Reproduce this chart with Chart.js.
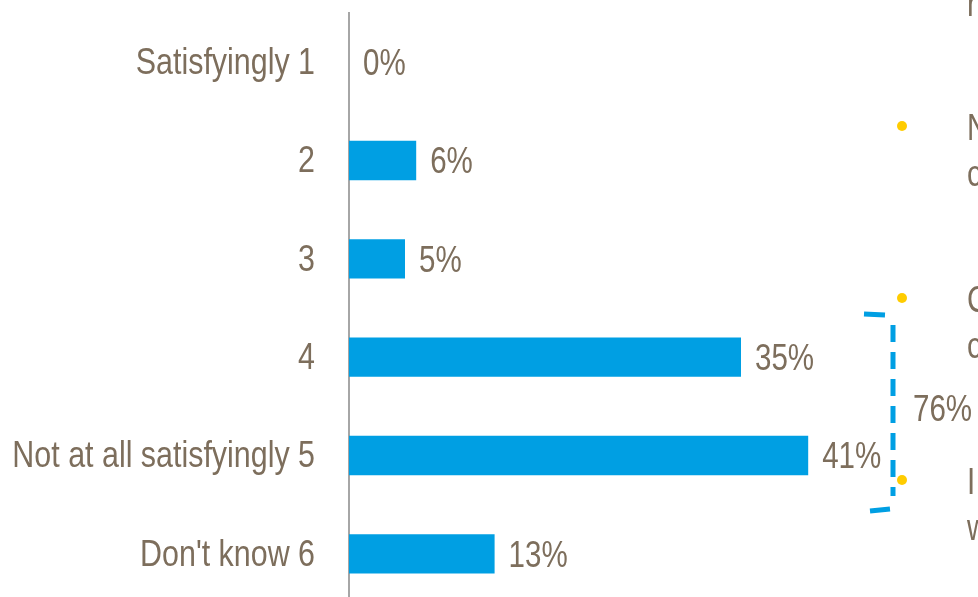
<!DOCTYPE html>
<html>
<head>
<meta charset="utf-8">
<script src="https://cdn.jsdelivr.net/npm/chart.js@4.4.1/dist/chart.umd.min.js"></script>
<style>
  html, body { margin: 0; padding: 0; background: #fff; overflow: hidden; }
  #wrap { position: relative; width: 978px; height: 606px; }
</style>
</head>
<body>
<div id="wrap"><canvas id="satChart"></canvas></div>
<script>
const categories = ["Satisfyingly 1", "2", "3", "4", "Not at all satisfyingly 5", "Don't know 6"];
const shares = [0, 6, 5, 35, 41, 13];
const bracketRows = [3, 4]; // "4" and "Not at all satisfyingly 5"

const textColor = "#7d6e5c";
const barColor = "#009fe3";
const fontFamily = "'Liberation Sans', Arial, sans-serif";
// no narrow font installed, so squeeze the text sideways
const squeeze = 0.82;
const labelSqueeze = 0.845;

// draw text squeezed horizontally around its anchor x
function narrowText(ctx, text, x, y) {
  ctx.save();
  ctx.translate(x, y);
  ctx.scale(squeeze, 1);
  ctx.fillText(text, 0, 0);
  ctx.restore();
}

// category axis whose labels are drawn squeezed
class NarrowCategory extends Chart.CategoryScale {
  static id = "narrowCategory";
  _computeLabelArea() {
    return undefined; // no clipping, the squeeze keeps labels on the canvas
  }
  drawLabels(area) {
    const ctx = this.ctx;
    const anchor = this.right - this.options.ticks.padding;
    ctx.save();
    ctx.translate(anchor, 2);
    ctx.scale(labelSqueeze, 1);
    ctx.translate(-anchor, 0);
    super.drawLabels(area);
    ctx.restore();
  }
}
Chart.register(NarrowCategory);

// value labels after each bar
const valueLabels = {
  id: "valueLabels",
  afterDatasetsDraw(chart) {
    const ctx = chart.ctx;
    const meta = chart.getDatasetMeta(0);
    ctx.save();
    ctx.font = "36px " + fontFamily;
    ctx.fillStyle = textColor;
    ctx.textBaseline = "middle";
    ctx.textAlign = "left";
    meta.data.forEach((bar, i) => {
      narrowText(ctx, shares[i] + "%", bar.x + 14, bar.y + 3);
    });
    ctx.restore();
  },
};

// bracket, bullets and cut-off side text
const sideNotes = {
  id: "sideNotes",
  afterDraw(chart) {
    const ctx = chart.ctx;
    ctx.save();
    // dashed bracket
    ctx.strokeStyle = barColor;
    ctx.lineWidth = 5;
    ctx.beginPath();
    ctx.moveTo(864, 314);
    ctx.lineTo(885, 315);
    ctx.moveTo(870, 511);
    ctx.lineTo(890, 509);
    ctx.stroke();
    ctx.setLineDash([17, 10]);
    ctx.beginPath();
    ctx.moveTo(893, 325);
    ctx.lineTo(893, 496);
    ctx.stroke();
    ctx.setLineDash([]);

    ctx.font = "36px " + fontFamily;
    ctx.fillStyle = textColor;
    ctx.textBaseline = "alphabetic";
    ctx.textAlign = "left";
    const total = bracketRows.reduce((s, i) => s + shares[i], 0);
    narrowText(ctx, total + "%", 913, 421);

    // bullets
    ctx.fillStyle = "#ffcc00";
    [126, 298, 480].forEach((y) => {
      ctx.beginPath();
      ctx.arc(902, y, 5, 0, Math.PI * 2);
      ctx.fill();
    });

    // text running off the right edge
    ctx.fillStyle = textColor;
    [["n", 16], ["N", 140], ["c", 186], ["C", 312], ["c", 358], ["I", 494], ["w", 540]].forEach(([t, y]) => {
      narrowText(ctx, t, 967, y);
    });
    ctx.restore();
  },
};

const ctx = document.getElementById("satChart").getContext("2d");
const satChart = new Chart(ctx, {
  type: "bar",
  data: {
    labels: categories,
    datasets: [
      {
        data: shares,
        backgroundColor: barColor,
        borderWidth: 0,
        barPercentage: 0.4,
        categoryPercentage: 1,
      },
    ],
  },
  options: {
    indexAxis: "y",
    responsive: true,
    maintainAspectRatio: false,
    animation: false,
    layout: { padding: { top: 13, bottom: 3, right: 69, left: 0 } },
    plugins: { legend: { display: false }, tooltip: { enabled: false } },
    scales: {
      x: {
        display: false,
        min: 0,
        max: 50,
      },
      y: {
        type: "narrowCategory",
        afterFit(scale) {
          scale.width = 349;
          scale.paddingTop = 0;
          scale.paddingBottom = 0;
        },
        grid: { display: false, drawTicks: false },
        border: { display: true, color: "#a6a6a6", width: 2 },
        ticks: {
          color: textColor,
          padding: 34,
          font: { family: fontFamily, size: 36 },
        },
      },
    },
  },
  plugins: [valueLabels, sideNotes],
});
</script>
</body>
</html>
